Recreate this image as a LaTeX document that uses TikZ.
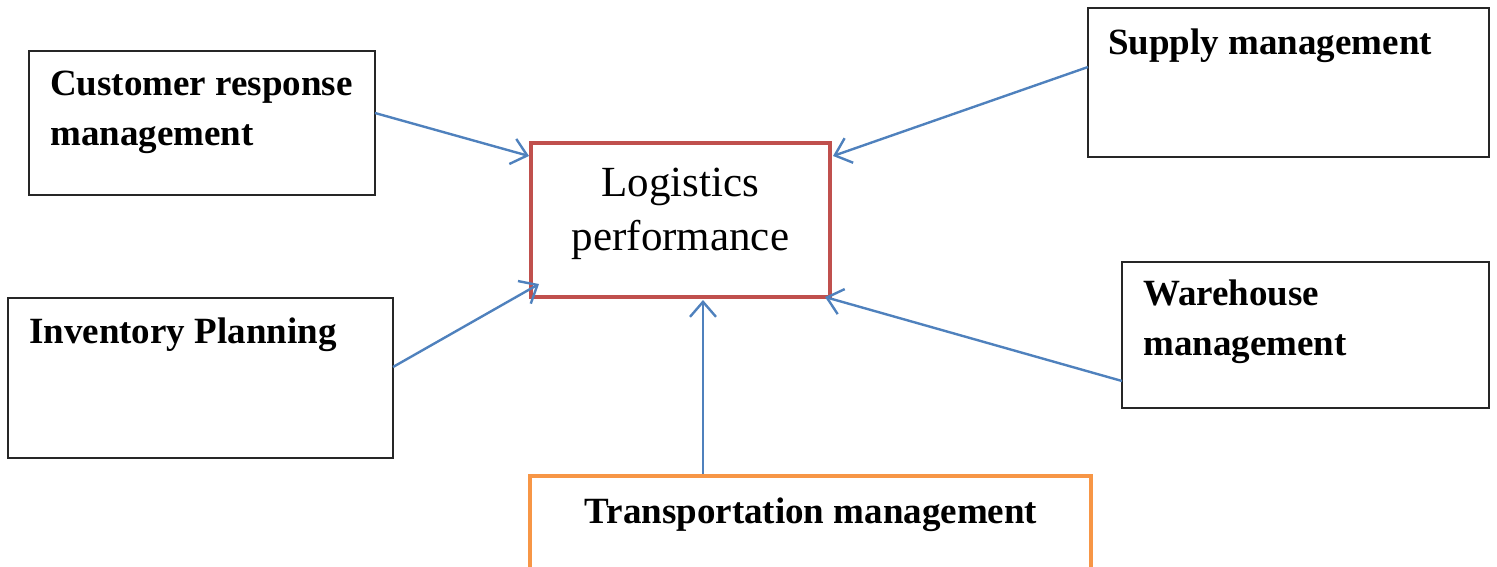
\documentclass[tikz,border=0pt]{standalone}
\usepackage{fontspec}
\setmainfont{Liberation Serif}
\usetikzlibrary{arrows.meta,calc}
\definecolor{boxred}{HTML}{C0504D}
\definecolor{boxorange}{HTML}{F79646}
\definecolor{arrowblue}{HTML}{4F81BD}
\begin{document}
\begin{tikzpicture}[x=1pt,y=-1pt,
  plainbox/.style={draw=black!85,line width=1.6pt,fill=white,rectangle,inner sep=0pt},
  redbox/.style={draw=boxred,line width=4pt,rectangle,inner sep=0pt},
  orangebox/.style={draw=boxorange,line width=4pt,rectangle,inner sep=0pt},
  boldtext/.style={inner sep=0pt,anchor=base west,font=\fontsize{37}{50}\selectfont\bfseries},
  maintext/.style={inner sep=0pt,anchor=base,font=\fontsize{43}{54}\selectfont},
  flow/.style={draw=arrowblue,line width=2.4pt,-{Straight Barb[length=15pt,width=26pt,line width=2.4pt]}}]
\useasboundingbox (0,0) rectangle (1497,566);
\clip (0,0) rectangle (1497,566);

% boxes, given by their corners
\path[plainbox] (29,51) rectangle (375,195) node[pos=.5,inner sep=0pt] (cust) {};
\path[plainbox] (1088,8) rectangle (1489,157) node[pos=.5,inner sep=0pt] (supp) {};
\path[plainbox] (8,298) rectangle (393,458) node[pos=.5,inner sep=0pt] (inv) {};
\path[plainbox] (1122,262) rectangle (1489,408) node[pos=.5,inner sep=0pt] (ware) {};
\path[redbox] (531,143) rectangle (830,297) node[pos=.5,inner sep=0pt] (logi) {};
\path[orangebox] (530,476) rectangle (1091,600) node[pos=.5,inner sep=0pt] (trans) {};

% named border points used by the connectors
\coordinate (custE) at (375,113);
\coordinate (suppW) at (1088,67);
\coordinate (invE) at (393,367);
\coordinate (wareW) at (1122,381);
\coordinate (transN) at (703,474);
\coordinate (logiA) at (529,156);
\coordinate (logiB) at (833,156);
\coordinate (logiC) at (539,284);
\coordinate (logiD) at (825,297);
\coordinate (logiE) at (703,300);

% labels
\node[boldtext] (custA) at (50,95) {Customer response};
\node[boldtext] (custB) at (50,145) {management};
\node[boldtext] (suppT) at (1108,54) {Supply management};
\node[boldtext] (invT) at (29,343) {Inventory Planning};
\node[boldtext] (wareA) at (1143,305) {Warehouse};
\node[boldtext] (wareB) at (1143,355) {management};
\node[boldtext,anchor=base] (transT) at (811,523) {Transportation management};
\node[maintext] (logiT1) at (680.5,196) {Logistics};
\node[maintext] (logiT2) at (680.5,250) {performance};

% connectors
\draw[flow] (custE) -- (logiA);
\draw[flow] (suppW) -- (logiB);
\draw[flow] (invE) -- (logiC);
\draw[flow] (wareW) -- (logiD);
\draw[flow] (transN) -- (logiE);
\end{tikzpicture}
\end{document}
